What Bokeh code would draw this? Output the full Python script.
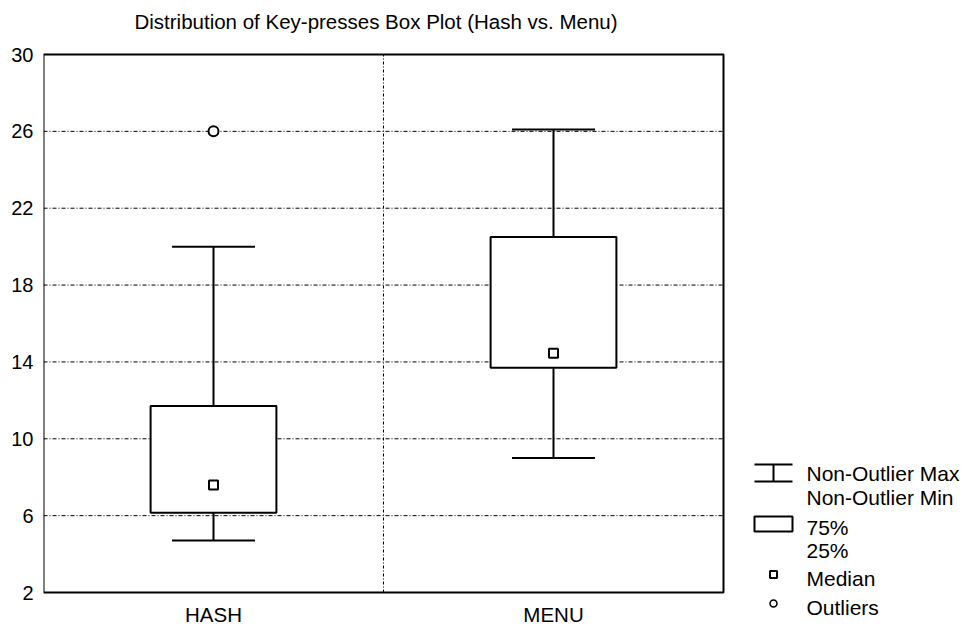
from bokeh.plotting import figure
from bokeh.models import Range1d, FixedTicker, ColumnDataSource
from bokeh.embed import file_html
from bokeh.resources import INLINE
from bokeh.core.properties import value

# ---------------- data ----------------
categories = ["HASH", "MENU"]
whisker_min = [4.7, 9.0]
q1 = [6.15, 13.7]
median = [7.6, 14.45]
q3 = [11.7, 20.5]
whisker_max = [20.0, 26.1]
outlier_cat = ["HASH"]
outlier_val = [26.0]
y_ticks = [2, 6, 10, 14, 18, 22, 26, 30]
title_text = "Distribution of Key-presses Box Plot (Hash vs. Menu)"
legend_labels = ["Non-Outlier Max", "Non-Outlier Min", "75%", "25%", "Median", "Outliers"]

FONT = "Liberation Sans"

# ---------------- layout (pixels) ----------------
W, H = 962, 626                 # figure size
PL, PR, PT, PB = 43, 723, 54, 592   # plot-area edges
Y0, Y1 = y_ticks[0], y_ticks[-1]
n = len(categories)

# data ranges chosen so that the plot area lands on PL..PR / PT..PB
kx = (PR - PL) / n
ky = (PB - PT) / (Y1 - Y0)
x_range = Range1d(0, n + (W - PR) / kx)
y_range = Range1d(Y0 - (H - PB) / ky, Y1 + PT / ky)

xpos = [i + 0.5 for i in range(n)]
cap = 0.122
box_w = 0.37

src = ColumnDataSource(dict(x=xpos, lo=whisker_min, q1=q1, med=median, q3=q3, hi=whisker_max,
                            xl=[v - cap for v in xpos], xr=[v + cap for v in xpos],
                            mid=[(a + b) / 2 for a, b in zip(q1, q3)],
                            h=[b - a for a, b in zip(q1, q3)]))

p = figure(x_range=x_range, y_range=y_range,
           frame_width=W - PL, frame_height=H,
           min_border_left=PL, min_border_right=0, min_border_top=0, min_border_bottom=0,
           x_axis_location=None,
           output_backend="svg", toolbar_location=None)
p.extra_x_ranges = {"px": Range1d(PL, W)}
p.extra_y_ranges = {"py": Range1d(H, 0)}
p.outline_line_color = None
p.background_fill_color = "white"
p.border_fill_color = "white"
p.grid.visible = False

# y axis
ax = p.yaxis[0]
ax.ticker = FixedTicker(ticks=y_ticks)
ax.axis_line_color = None
ax.major_tick_in = 0
ax.major_tick_out = 0
ax.minor_tick_in = 0
ax.minor_tick_out = 0
ax.major_label_text_font = FONT
ax.major_label_text_font_size = "20px"
ax.major_label_text_color = "black"
ax.major_label_standoff = 10

# horizontal grid lines (dash-dot)
inner = [t for t in y_ticks if Y0 < t < Y1]
p.segment(x0=[0] * len(inner), x1=[n] * len(inner), y0=inner, y1=inner,
          line_color="black", line_width=1, line_dash="4 2 1 2")
# vertical dividers between categories
div = list(range(1, n))
p.segment(x0=div, x1=div, y0=[Y0] * len(div), y1=[Y1] * len(div),
          line_color="black", line_width=1, line_dash="3 2 1 2")
# frame
p.quad(left=[0], right=[n], bottom=[Y0], top=[Y1], fill_color=None,
       line_color="black", line_width=2)

# whiskers
p.segment(x0="x", x1="x", y0="q3", y1="hi", source=src, line_color="black", line_width=2)
p.segment(x0="x", x1="x", y0="lo", y1="q1", source=src, line_color="black", line_width=2)
p.segment(x0="xl", x1="xr", y0="hi", y1="hi", source=src, line_color="black", line_width=2)
p.segment(x0="xl", x1="xr", y0="lo", y1="lo", source=src, line_color="black", line_width=2)
# boxes
p.rect(x="x", y="mid", width=box_w, height="h", source=src, fill_color="white",
       line_color="black", line_width=2)
# median
p.scatter(x="x", y="med", source=src, marker="square", size=9, fill_color="white",
          line_color="black", line_width=2)
# outliers
p.scatter(x=[xpos[categories.index(c)] for c in outlier_cat], y=outlier_val, marker="circle",
          size=10, fill_color="white", line_color="black", line_width=2)

# category labels
p.text(x=xpos, y=[PB + 21.5] * n, y_range_name="py", text=categories,
       text_font=value(FONT), text_font_size="20.5px", text_color="black",
       text_align="center", text_baseline="middle")

# title
p.text(x=[(PL + PR) / 2 - 7.5], y=[21], x_range_name="px", y_range_name="py", text=[title_text],
       text_font=value(FONT), text_font_size="20.5px", text_color="black",
       text_align="center", text_baseline="middle")

# ---------------- legend ----------------
LX, SW = PR + 31, 38
SC = LX + SW / 2
TX = LX + 52
kw = dict(x_range_name="px", y_range_name="py")
wt, wb = 464, 481
p.segment(x0=[LX, LX, SC], x1=[LX + SW, LX + SW, SC], y0=[wt, wb, wt], y1=[wt, wb, wb],
          line_color="black", line_width=2, **kw)
p.quad(left=[LX], right=[LX + SW], top=[516], bottom=[531], fill_color="white",
       line_color="black", line_width=2, **kw)
p.scatter(x=[SC], y=[574], marker="square", size=7, fill_color="white",
          line_color="black", line_width=2, **kw)
p.scatter(x=[SC], y=[603], marker="circle", size=7, fill_color="white",
          line_color="black", line_width=1.5, **kw)
p.text(x=[TX] * len(legend_labels), y=[473, 497, 527, 550, 578, 607], text=legend_labels,
       text_font=value(FONT), text_font_size="21px", text_color="black",
       text_align="left", text_baseline="middle", **kw)

open("out.html", "w").write(file_html(p, INLINE))
